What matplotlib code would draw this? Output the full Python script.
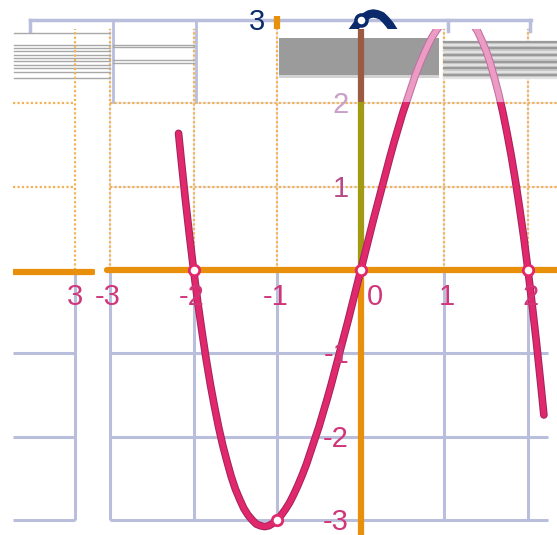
import matplotlib
matplotlib.use('Agg')
import matplotlib.pyplot as plt
import matplotlib.patches as mpatches
import matplotlib.transforms as mtransforms
import matplotlib.patheffects as pe

## data
curve_x = [-2.18, -2.15, -2.10, -2.05, -2.00, -1.95, -1.90, -1.85, -1.80, -1.75,
           -1.70, -1.65, -1.60, -1.55, -1.50, -1.45, -1.40, -1.35, -1.30, -1.25,
           -1.20, -1.15, -1.10, -1.05, -1.00, -0.95, -0.90, -0.85, -0.80, -0.75,
           -0.70, -0.65, -0.60, -0.55, -0.50, -0.45, -0.40, -0.35, -0.30, -0.25,
           -0.20, -0.15, -0.10, -0.05, 0.00,
           0.05, 0.10, 0.15, 0.20, 0.25, 0.30, 0.35, 0.40, 0.45, 0.50,
           0.55, 0.60, 0.65, 0.70, 0.75, 0.80, 0.85, 0.90, 0.95, 1.00,
           1.05, 1.10, 1.15, 1.20, 1.25, 1.30, 1.35, 1.40, 1.45, 1.50,
           1.55, 1.60, 1.65, 1.70, 1.75, 1.80, 1.85, 1.90, 1.95, 2.00,
           2.05, 2.10, 2.15, 2.19]
curve_y = [1.64, 1.34, 0.86, 0.42, 0.00, -0.39, -0.74, -1.07, -1.37, -1.64,
           -1.89, -2.11, -2.30, -2.48, -2.63, -2.75, -2.86, -2.94, -3.00, -3.05,
           -3.07, -3.08, -3.07, -3.04, -3.00, -2.94, -2.87, -2.79, -2.69, -2.58,
           -2.46, -2.33, -2.18, -2.03, -1.88, -1.71, -1.54, -1.36, -1.17, -0.98,
           -0.79, -0.60, -0.40, -0.20, 0.00,
           0.20, 0.40, 0.60, 0.79, 0.98, 1.17, 1.36, 1.54, 1.71, 1.88,
           2.03, 2.18, 2.33, 2.46, 2.58, 2.69, 2.79, 2.87, 2.94, 3.00,
           3.04, 3.07, 3.08, 3.07, 3.05, 3.00, 2.94, 2.86, 2.75, 2.63,
           2.48, 2.30, 2.11, 1.89, 1.64, 1.37, 1.07, 0.74, 0.39, 0.00,
           -0.42, -0.86, -1.34, -1.74]
points_x = [-2, 0, 2, -1]
points_y = [0, 0, 0, -3]
top_point_x = [1]
top_point_y = [3]

xticks = [-3, -2, -1, 0, 1, 2]
xlabels = ['-3', '-2', '-1', '0', '1', '2']
yticks = [-3, -2, -1, 1, 2]
ylabels = ['-3', '-2', '-1', '1', '2']
top_label = '3'
strip_tick = 3
strip_label = '3'

## glitch lines (gray streaks at the top)
streak_left_y = [2.85, 2.70, 2.665, 2.63, 2.58, 2.545, 2.51, 2.46, 2.425, 2.38, 2.305]
streak_mid_y = [2.70, 2.68, 2.52, 2.49]
stripe_right_y = [2.74, 2.70, 2.66, 2.62, 2.58, 2.54, 2.50, 2.46, 2.42, 2.38, 2.34, 2.31]

## colours
blue = '#b9bedc'
odot = '#f2b255'
orange = '#e8900c'
crimson = '#e2286c'
navy = '#0b2a6b'
labc = '#d0367a'

X0, X1 = -4.316, 2.347
Y0, Y1 = -3.181, 3.241
CUT = 2.89
MID = 2.02

def main():
  fig = plt.figure(figsize=(5.57, 5.35), dpi=100)
  ax = fig.add_axes([0, 0, 1, 1])
  ax.set_xlim(X0, X1)
  ax.set_ylim(Y0, Y1)
  ax.axis('off')
  shift = mtransforms.Affine2D().translate(-1, 0) + ax.transData

#grid
  for x in xticks:
    if x == 0:
      continue
    ax.plot([x, x], [-3, 0], color=blue, lw=2.2, solid_capstyle='butt', zorder=1)
    ax.plot([x, x], [0, CUT], color='#e6e8f3', lw=1.2, zorder=1)
    ax.plot([x, x], [0, CUT], color=odot, lw=1.6, ls=(0, (1, 1)), zorder=1.2)
  for y in yticks:
    if y < 0:
      ax.plot([-3, 2.24], [y, y], color=blue, lw=2.2, solid_capstyle='butt', zorder=1)
    else:
      ax.plot([-3, X1], [y, y], color='#e6e8f3', lw=1.2, zorder=1)
      ax.plot([-3, X1], [y, y], color=odot, lw=1.6, ls=(0, (1, 1)), zorder=1.2)
  ax.plot([-3.96, 2.03], [3, 3], color=blue, lw=2.5, zorder=1)
  for x in [-3.96, 1.04, 2.02]:
    ax.plot([x, x], [3, 2.87], color=blue, lw=2.5, zorder=1)
  for x in [-2.96, -1.97]:
    ax.plot([x, x], [3, MID], color=blue, lw=2.0, zorder=1)

#gray streaks
  ax.add_patch(mpatches.Rectangle((-0.98, 2.34), 1.92, 0.44, color='#9b9b9b', lw=0, zorder=1.5))
  ax.add_patch(mpatches.Rectangle((-0.98, 2.30), 1.92, 0.04, color='#d2d2d2', lw=0, zorder=1.5))
  ax.add_patch(mpatches.Rectangle((0.99, 2.30), X1 - 0.99, 0.45, color='#c8c8c8', lw=0, zorder=1.5))
  for i, y in enumerate(stripe_right_y):
    ax.plot([0.99, X1], [y, y], color='#9a9a9a' if i % 2 == 0 else '#e2e2e2', lw=1.6, zorder=1.6)
  for y in streak_left_y:
    ax.plot([-4.15, -3.0], [y, y], color='#a8a8a8', lw=1.0, zorder=1.5)
  for y in streak_mid_y:
    ax.plot([-2.96, -2.0], [y, y], color='#a8a8a8', lw=1.0, zorder=1.5)

#axes
  ax.plot([-3.04, X1], [0, 0], color=orange, lw=4.5, solid_capstyle='round', zorder=2)
  ax.plot([0, 0], [Y0, 0], color=orange, lw=4.5, solid_capstyle='butt', zorder=2)
  ax.plot([0, 0], [0, MID], color='#a39a14', lw=4.5, solid_capstyle='butt', zorder=2)
  ax.plot([0, 0], [MID, CUT], color='#9b5a42', lw=4.5, solid_capstyle='butt', zorder=2)
  ax.plot([0, 0], [CUT, 3.05], color=orange, lw=4.5, solid_capstyle='butt', transform=shift, zorder=2)

#curve
  low = mpatches.Rectangle((X0, Y0), X1 - X0, MID - Y0, transform=ax.transData)
  band = mpatches.Rectangle((X0, MID), X1 - X0, CUT - MID, transform=ax.transData)
  top = mpatches.Rectangle((X0, CUT), X1 - X0, Y1 - CUT, transform=ax.transData)
  l1, = ax.plot(curve_x, curve_y, color=crimson, lw=4, solid_capstyle='round',
                solid_joinstyle='round', zorder=3,
                path_effects=[pe.Stroke(linewidth=5.5, foreground='#a3245e'), pe.Normal()])
  l1.set_clip_path(low)
  l2, = ax.plot(curve_x, curve_y, color='#ec9cc4', lw=4, solid_capstyle='round',
                solid_joinstyle='round', zorder=3,
                path_effects=[pe.Stroke(linewidth=5.5, foreground='#c070a0'), pe.Normal()])
  l2.set_clip_path(band)
  l3, = ax.plot(curve_x, curve_y, color=navy, lw=6, solid_joinstyle='round',
                transform=shift, zorder=3)
  l3.set_clip_path(top)

  ax.plot(points_x, points_y, 'o', ms=7.5, mfc='white', mec=crimson, mew=2, zorder=5)
  ax.plot(top_point_x, top_point_y, 'o', ms=8, mfc='white', mec=navy, mew=2.5,
          transform=shift, zorder=5)

#labels
  font = dict(family='Liberation Sans', fontsize=21)
  for x, l in zip(xticks, xlabels):
    dx = 0.27 if x == 0 else 0.13
    ax.text(x + dx, -0.42, l, ha='right', va='baseline', color=labc, zorder=6, **font)
  for y, l in zip(yticks, ylabels):
    c = '#c9a0c8' if y == 2 else (labc if y < 0 else '#b84a8a')
    ax.text(-0.14, y - 0.12, l, ha='right', va='baseline', color=c, zorder=6, **font)
  ax.text(-0.14, 2.88, top_label, ha='right', va='baseline', color=navy, transform=shift,
          zorder=6, **font)

#left strip
  ax2 = fig.add_axes([13 / 557., 0, 82 / 557., 1])
  s0, s1 = 2.258, 3.239
  ax2.set_xlim(s0, s1)
  ax2.set_ylim(Y0, Y1)
  ax2.axis('off')
  ax2.plot([strip_tick, strip_tick], [-3, 0], color=blue, lw=2.2, solid_capstyle='butt')
  ax2.plot([strip_tick, strip_tick], [0, CUT], color=odot, lw=1.6, ls=(0, (1, 1)))
  for y in yticks:
    if y < 0:
      ax2.plot([s0, strip_tick], [y, y], color=blue, lw=2.2, solid_capstyle='butt')
    else:
      ax2.plot([s0, strip_tick], [y, y], color=odot, lw=1.6, ls=(0, (1, 1)))
  ax2.plot([s0, 3.215], [-0.02, -0.02], color=orange, lw=4.5, solid_capstyle='round')
  ax2.text(strip_tick + 0.1, -0.42, strip_label, ha='right', va='baseline', color=labc, **font)

  fig.savefig('out.png', dpi=100)

if __name__ == "__main__":
  main()
